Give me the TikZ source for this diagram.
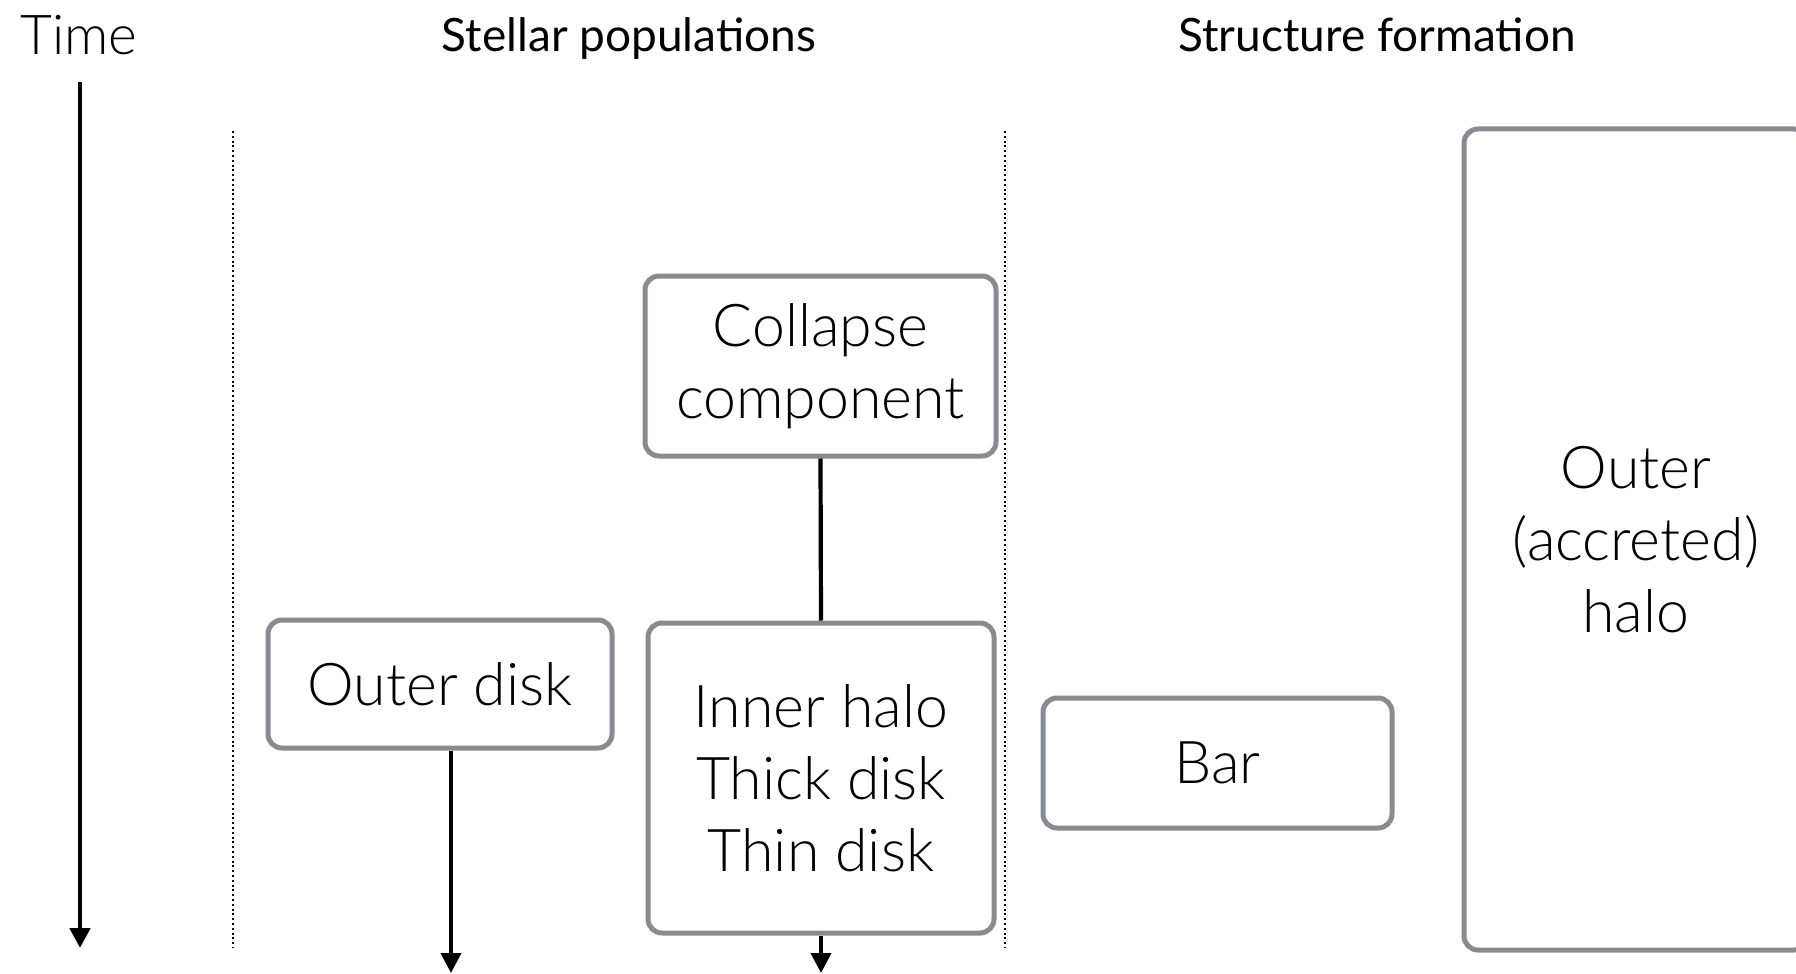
\documentclass[tikz,border=0pt]{standalone}
\usepackage{fontspec}
\setmainfont{Lato}
\newfontfamily\lightfont{Lato Light}
\usetikzlibrary{arrows.meta}
\definecolor{boxgray}{RGB}{136,139,143}
\begin{document}
\begin{tikzpicture}[x=0.5pt,y=-0.5pt,
  box/.style={draw=boxgray,line width=2.5pt,rounded corners=7pt,fill=white,inner sep=0pt,
    font=\lightfont\fontsize{29.5}{36}\selectfont,align=center,text=black},
  head/.style={font=\fontsize{23}{26}\selectfont,inner sep=0pt,anchor=base},
  arr/.style={line width=2.1pt,-{Triangle[width=10pt,length=10pt]}},
  link/.style={line width=2.1pt},
  sep/.style={line width=1pt,dash pattern=on 1pt off 1.4pt}]
\useasboundingbox (0,0) rectangle (1796,974);
% headers
\node[font=\lightfont\fontsize{27.5}{30}\selectfont,anchor=west,inner sep=0pt] (time) at (20,35) {Time};
\node[head] (stellar) at (629,52) {Stellar populations};
\node[head] (structure) at (1377,52) {Structure formation};
% time axis
\coordinate (tstart) at (80,82);
\coordinate (tend) at (80,948);
\draw[arr,line width=2.4pt] (tstart) -- (tend);
% separators
\coordinate (s1a) at (232.5,131);
\coordinate (s1b) at (232.5,948);
\coordinate (s2a) at (1004.5,131);
\coordinate (s2b) at (1004.5,948);
\draw[sep] (s1a) -- (s1b);
\draw[sep] (s2a) -- (s2b);
% boxes
\node[box,minimum width=175.5pt,minimum height=90pt] (collapse) at (820.5,366) {Collapse\\component};
\node[box,minimum width=173pt,minimum height=155pt] (inner) at (821,778) {Inner halo\\Thick disk\\Thin disk};
\node[box,minimum width=172pt,minimum height=64pt] (outerdisk) at (440,684) {Outer disk};
\node[box,minimum width=174.5pt,minimum height=65pt] (bar) at (1217.5,763) {Bar};
\node[box,minimum width=172pt,minimum height=410.5pt] (halo) at (1636,539.5) {Outer\\(accreted)\\halo};
% connectors
\coordinate (odend) at (451,973);
\coordinate (inend) at (821,973);
\draw[link] (collapse.south) -- (inner.north);
\draw[arr] (odend |- outerdisk.south) -- (odend);
\draw[arr] (inner.south) -- (inend);
\end{tikzpicture}
\end{document}
